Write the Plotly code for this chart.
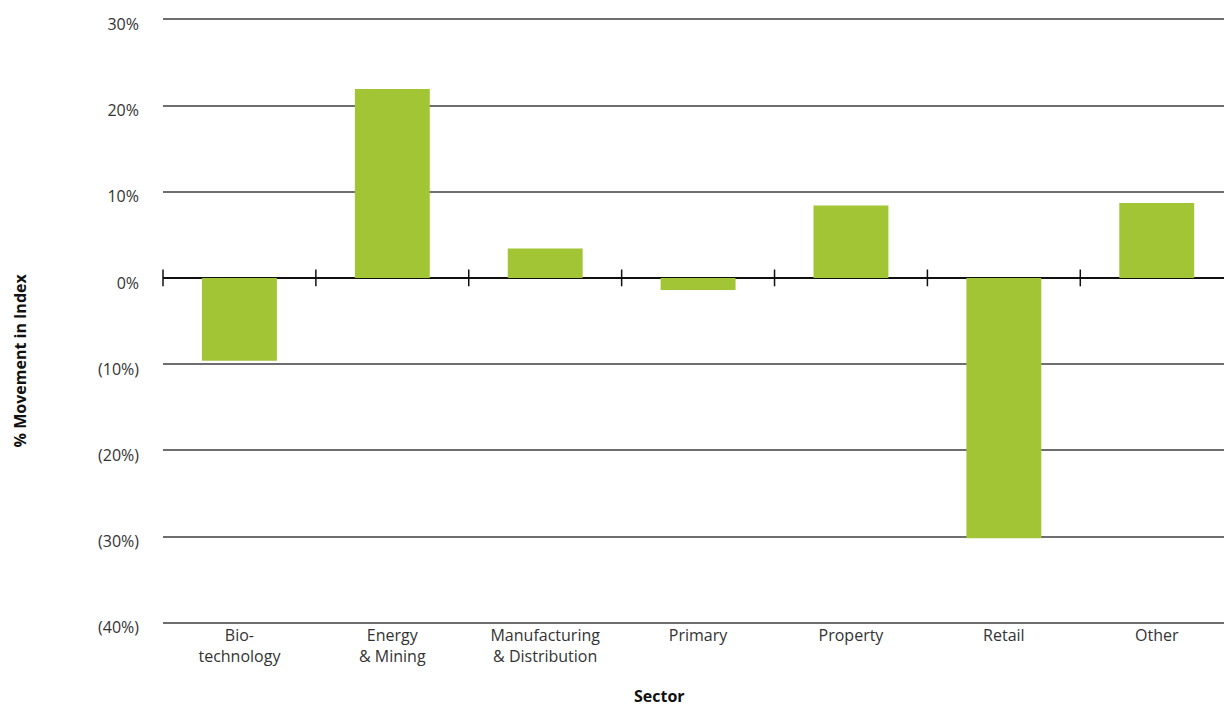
import plotly.graph_objects as go

sectors = ["Bio-<br>technology", "Energy<br>& Mining", "Manufacturing<br>& Distribution",
           "Primary", "Property", "Retail", "Other"]
movement = [-9.6, 21.9, 3.4, -1.4, 8.4, -30.2, 8.7]

y_ticks = [30, 20, 10, 0, -10, -20, -30, -40]
y_labels = ["30%", "20%", "10%", "0%", "(10%)", "(20%)", "(30%)", "(40%)"]

FONT = "Open Sans"
idx = list(range(len(sectors)))
boundaries = [i - 0.5 for i in idx]

fig = go.Figure()
fig.add_trace(go.Bar(x=idx, y=movement, width=0.49, marker_color="#A2C535",
                     marker_line_width=0, showlegend=False))
fig.add_trace(go.Scatter(x=boundaries, y=[0] * len(boundaries), mode="markers",
                         marker=dict(symbol="line-ns", size=12,
                                     line=dict(color="#111111", width=1.5)),
                         showlegend=False, hoverinfo="skip", cliponaxis=False))

fig.update_layout(
    width=1224, height=708,
    margin=dict(l=163, r=0, t=18, b=84),
    plot_bgcolor="white", paper_bgcolor="white",
    font=dict(family=FONT, size=16, color="#333333"),
    xaxis=dict(range=[-0.5, 6.44], tickvals=idx, ticktext=sectors,
               showgrid=False, zeroline=False, showline=False,
               ticks="", ticklabelstandoff=0),
    yaxis=dict(range=[-40.15, 30.15], tickvals=y_ticks, ticktext=y_labels,
               showgrid=True, gridcolor="#6e6e6e", gridwidth=1.5,
               zeroline=True, zerolinecolor="#111111", zerolinewidth=1.5,
               showline=False, ticks="", ticklabelstandoff=23,
               ticklabelshift=5),
    annotations=[
        dict(text="<b>Sector</b>", x=2.75, xref="x", y=-0.14, yref="paper",
             showarrow=False, font=dict(size=16, color="#111111")),
        dict(text="<b>% Movement in Index</b>", x=(20 - 163) / (1224 - 163),
             xref="paper", xanchor="center",
             y=0.435, yref="paper", textangle=-90, showarrow=False,
             font=dict(size=16, color="#111111")),
    ],
)

fig.write_html("out.html")
